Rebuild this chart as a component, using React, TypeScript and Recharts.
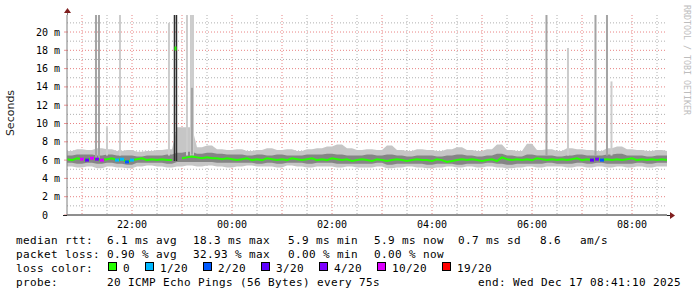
import React from "react";
import {
  ComposedChart, CartesianGrid, XAxis, YAxis, Area, Line, Bar, Scatter,
} from "recharts";

// time axis in hours since midnight of Dec 16 (24 = 00:00 Dec 17)
const T_START = 20.7;
const T_END = 32.7;
const T_STEP = 0.1;
const Y_TOP = 21.86; // ms at top edge of the plot

const hourTicks = [22, 24, 26, 28, 30, 32];
const hourLabels = ["22:00", "00:00", "02:00", "04:00", "06:00", "08:00"];
const msTicks = [0, 2, 4, 6, 8, 10, 12, 14, 16, 18, 20];
const msLabels = ["0\u00a0\u00a0", "2 m", "4 m", "6 m", "8 m", "10 m", "12 m", "14 m", "16 m", "18 m", "20 m"];

const majorY = [2, 4, 6, 8, 10, 12, 14, 16, 18, 20];
const minorY = [1, 3, 5, 7, 9, 11, 13, 15, 17, 19, 21];
const majorX = [21, 22, 23, 24, 25, 26, 27, 28, 29, 30, 31, 32];
const minorX = [21.5, 22.5, 23.5, 24.5, 25.5, 26.5, 27.5, 28.5, 29.5, 30.5, 31.5, 32.5];

// median rtt (ms), one value every 6 minutes
const median = [
  6.1, 6.0, 6.2, 6.1, 6.0, 6.2, 6.1, 6.0, 6.1, 6.2,
  6.0, 6.1, 5.8, 6.0, 6.1, 6.2, 6.0, 6.1, 6.0, 6.1,
  6.0, 6.0, null, 6.2, 6.3, 6.4, 6.3, 6.2, 6.3, 6.2,
  6.2, 6.1, 6.2, 6.1, 6.0, 6.1, 6.2, 6.0, 6.1, 6.0,
  6.2, 6.1, 6.0, 6.1, 6.0, 6.2, 6.1, 6.0, 6.1, 6.2,
  6.0, 6.1, 6.0, 6.2, 6.1, 6.0, 6.1, 5.9, 6.0, 6.1,
  6.0, 5.9, 6.1, 6.0, 5.9, 6.0, 6.1, 6.0, 5.9, 6.0,
  6.1, 6.0, 6.0, 5.9, 6.1, 6.0, 5.8, 5.9, 6.0, 6.1,
  6.0, 6.1, 6.0, 5.9, 6.0, 6.1, 5.9, 6.3, 6.1, 6.0,
  6.1, 6.0, 6.1, 6.0, 6.2, 6.1, 6.0, 6.1, 6.0, 6.1,
  6.0, 6.1, 6.2, 6.0, 6.1, 6.0, 6.1, 6.0, 6.1, 6.0,
  6.1, 6.0, 6.1, 6.2, 6.0, 6.1, 6.0, 6.1, 6.0, 6.1,
  6.0,
];

// smoke bands (ms), one value every 12 minutes
const outerHi = [
  7.0, 7.2, 7.1, 7.3, 7.2, 7.0, 7.1, 6.9, 7.0, 7.1,
  7.2, 9.6, 9.6, 7.4, 7.6, 7.2, 7.1, 7.2, 7.0, 7.1,
  7.3, 7.1, 7.2, 7.0, 7.2, 7.3, 7.5, 7.7, 7.3, 7.1,
  7.2, 7.1, 7.6, 7.1, 7.0, 7.2, 7.1, 7.0, 7.2, 7.4,
  7.1, 7.0, 7.2, 7.7, 7.1, 7.0, 7.8, 7.1, 7.2, 7.0,
  7.3, 7.2, 7.1, 7.0, 7.3, 7.5, 7.2, 7.1, 7.0, 7.1,
  7.0,
];
const outerLo = [
  5.3, 5.2, 5.3, 5.1, 5.3, 5.2, 5.1, 5.3, 5.4, 5.3,
  5.2, 5.3, 5.4, 5.3, 5.4, 5.3, 5.2, 5.3, 5.4, 5.3,
  5.3, 5.2, 5.4, 5.3, 5.2, 5.3, 5.3, 5.2, 5.3, 5.2,
  5.2, 5.3, 5.1, 5.2, 5.3, 5.2, 5.1, 5.2, 5.3, 5.2,
  5.3, 5.2, 5.3, 5.2, 5.1, 5.2, 5.3, 5.2, 5.3, 5.3,
  5.2, 5.3, 5.2, 5.3, 5.2, 5.3, 5.2, 5.3, 5.2, 5.3,
  5.3,
];
const innerHi = [
  6.5, 6.6, 6.6, 6.5, 6.6, 6.5, 6.5, 6.4, 6.5, 6.5,
  6.6, 6.8, 6.9, 6.7, 6.8, 6.7, 6.6, 6.6, 6.5, 6.6,
  6.5, 6.6, 6.5, 6.5, 6.6, 6.6, 6.7, 6.6, 6.5, 6.5,
  6.6, 6.5, 6.6, 6.5, 6.4, 6.5, 6.5, 6.4, 6.5, 6.6,
  6.5, 6.4, 6.5, 6.7, 6.5, 6.4, 6.6, 6.5, 6.5, 6.4,
  6.5, 6.6, 6.5, 6.5, 6.6, 6.7, 6.5, 6.5, 6.4, 6.5,
  6.5,
];
const innerLo = [
  5.7, 5.6, 5.7, 5.6, 5.7, 5.6, 5.5, 5.7, 5.7, 5.7,
  5.6, 5.8, 5.8, 5.8, 5.8, 5.7, 5.7, 5.7, 5.7, 5.6,
  5.7, 5.6, 5.7, 5.7, 5.6, 5.7, 5.7, 5.6, 5.6, 5.6,
  5.6, 5.7, 5.5, 5.6, 5.6, 5.6, 5.5, 5.6, 5.6, 5.5,
  5.6, 5.6, 5.7, 5.6, 5.5, 5.6, 5.6, 5.6, 5.7, 5.6,
  5.6, 5.7, 5.6, 5.7, 5.6, 5.6, 5.6, 5.7, 5.6, 5.7,
  5.7,
];

// lossy samples: index into median[], and lost pings out of 20
const lossRows = [3, 4, 5, 6, 7, 10, 11, 12, 13, 105, 106, 107];
const lossCounts = [10, 3, 10, 4, 10, 1, 1, 2, 1, 3, 4, 2];

// single-sample outliers in the smoke
const spikeTimes = [21.28, 21.34, 21.5, 21.76, 22.74, 22.85, 22.89, 23.1, 23.18, 23.22, 23.2, 30.29, 30.72, 31.27, 31.5, 31.59];
const spikeLows = [6.2, 6.2, 6.5, 6.5, 6.5, 5.9, 5.9, 6.5, 6.5, 6.5, 6.6, 6.5, 6.5, 6.5, 6.5, 6.5];
const spikeHighs = [22, 22, 9.6, 22, 21.0, 22, 22, 22, 22, 22, 13.9, 22, 18.25, 22, 22, 14.6];
const spikeShades = ["mid", "mid", "light", "light", "light", "dark", "dark", "light", "light", "light", "mid", "mid", "light", "mid", "mid", "light"];

const peakTimes = [22.87];
const peakMedians = [18.2];

const lossLevels = [0, 1, 2, 3, 4, 10, 19];
const lossLabels = ["0", "1/20", "2/20", "3/20", "4/20", "10/20", "19/20"];
const LOSS_COLORS: Record<number, string> = {
  0: "#26ff00", 1: "#00b8ff", 2: "#0059ff", 3: "#5e00ff", 4: "#7e00ff", 10: "#dd00ff", 19: "#ff0000",
};
const SHADES: Record<string, string> = { light: "#cccccc", mid: "#a4a4a4", dark: "#2e2e2e" };

const MONO = '"DejaVu Sans Mono", monospace';

const legendRtt: [number, string][] = [
  [16, "median rtt:"], [107, "6.1 ms avg"], [193, "18.3 ms max"], [288, "5.9 ms min"],
  [374, "5.9 ms now"], [458, "0.7 ms sd"], [540, "8.6"], [580, "am/s"],
];
const legendLoss: [number, string][] = [
  [16, "packet loss:"], [107, "0.90 % avg"], [193, "32.93 % max"], [288, "0.00 % min"], [374, "0.00 % now"],
];
const legendProbe: [number, string][] = [
  [16, "probe:"], [107, "20 ICMP Echo Pings (56 Bytes) every 75s"], [478, "end: Wed Dec 17 08:41:10 2025"],
];

function SpikeShape(props: any) {
  const { x, y, width, height, payload } = props;
  if (height == null || !isFinite(height) || !isFinite(y)) return null;
  const cx = x + width / 2;
  const w = payload.shade === "dark" ? 1.5 : 2;
  return <rect x={cx - w / 2} y={y} width={w} height={height} fill={SHADES[payload.shade]} />;
}

function LossDot(props: any) {
  const { cx, cy, payload } = props;
  if (cx == null || cy == null) return null;
  return <rect x={cx - 2} y={cy - 1.5} width={4} height={3} fill={LOSS_COLORS[payload.loss]} />;
}

function PeakDot(props: any) {
  const { cx, cy } = props;
  if (cx == null || cy == null) return null;
  return <rect x={cx - 1} y={cy - 2} width={2} height={4} fill={LOSS_COLORS[0]} />;
}

export default function App() {
  const rows = median.map((m, i) => ({
    t: Math.round((T_START + i * T_STEP) * 100) / 100,
    median: m,
    outer: [outerLo[i >> 1], outerHi[i >> 1]],
    inner: [innerLo[i >> 1], innerHi[i >> 1]],
  }));
  const lossData = lossRows.map((r, k) => ({ t: rows[r].t, median: rows[r].median, loss: lossCounts[k] }));
  const spikes = spikeTimes.map((t, k) => ({ t, range: [spikeLows[k], spikeHighs[k]], shade: spikeShades[k] }));
  const peaks = peakTimes.map((t, k) => ({ t, median: peakMedians[k] }));

  // loss colour legend boxes
  let lx = 108;
  const boxes = lossLevels.map((lvl, k) => {
    const item = { x: lx, lvl, label: lossLabels[k] };
    lx += 15 + lossLabels[k].length * 7 + 15;
    return item;
  });

  return (
    <div style={{ position: "relative", width: 697, height: 297, background: "#fff" }}>
      <style>{"body{margin:0}"}</style>
      <ComposedChart width={697} height={297} data={spikes} margin={{ top: 15, right: 30, bottom: 52, left: 7 }}>
        <CartesianGrid horizontalValues={minorY} verticalValues={minorX} stroke="rgba(143,143,143,0.7)" strokeDasharray="1 2" />
        <CartesianGrid horizontalValues={majorY} verticalValues={majorX} stroke="rgba(222,79,79,0.7)" strokeDasharray="1 2" />
        <XAxis
          type="number"
          dataKey="t"
          domain={[T_START, T_END]}
          allowDataOverflow
          ticks={hourTicks}
          interval={0}
          tickFormatter={(v: number) => hourLabels[hourTicks.indexOf(v)]}
          tick={{ fontFamily: MONO, fontSize: 10, fill: "#000" }}
          tickLine={false}
          tickSize={4}
          tickMargin={2}
          axisLine={{ stroke: "#1f1f1f" }}
          height={30}
        />
        <YAxis
          type="number"
          domain={[0, Y_TOP]}
          allowDataOverflow
          ticks={msTicks}
          interval={0}
          tickFormatter={(v: number) => msLabels[msTicks.indexOf(v)]}
          tick={{ fontFamily: MONO, fontSize: 10, fill: "#000" }}
          tickLine={{ stroke: "rgba(222,79,79,0.6)" }}
          tickSize={3}
          tickMargin={4}
          axisLine={{ stroke: "#7f7f7f" }}
          width={60}
        />
        <Area data={rows} dataKey="outer" type="linear" stroke="none" fill="#c6c6c6" fillOpacity={1} isAnimationActive={false} />
        <Area data={rows} dataKey="inner" type="linear" stroke="none" fill="#858585" fillOpacity={1} isAnimationActive={false} />
        <Bar dataKey="range" barSize={2} shape={SpikeShape} isAnimationActive={false} />
        <Line data={rows} dataKey="median" type="linear" stroke={LOSS_COLORS[0]} strokeWidth={2} dot={false} isAnimationActive={false} />
        <Scatter data={lossData} dataKey="median" shape={LossDot} isAnimationActive={false} />
        <Scatter data={peaks} dataKey="median" shape={PeakDot} isAnimationActive={false} />
      </ComposedChart>

      <svg width={697} height={297} style={{ position: "absolute", left: 0, top: 0, pointerEvents: "none" }}>
        {/* axis extensions and arrows */}
        <line x1={67.5} y1={12} x2={67.5} y2={15} stroke="#7f7f7f" />
        <polygon points="64,13 71,13 67.5,8" fill="rgb(128,31,31)" />
        <line x1={63} y1={215.5} x2={67} y2={215.5} stroke="#1f1f1f" />
        <line x1={667} y1={215.5} x2={670} y2={215.5} stroke="#1f1f1f" />
        <polygon points="670,212 670,219 675,215.5" fill="rgb(128,31,31)" />

        <text transform="translate(14,113) rotate(-90)" textAnchor="middle" fontFamily='"DejaVu Sans", sans-serif' fontSize={11} fill="#222">
          Seconds
        </text>
        <text transform="translate(684,5) rotate(90)" fontFamily={MONO} fontSize={8.3} fill="#bdbdbd">
          RRDTOOL / TOBI OETIKER
        </text>

        <g fontFamily={MONO} fontSize={11} letterSpacing={0.38} fill="#000">
          {legendRtt.map(([x, s]) => <text key={"a" + x} x={x} y={244}>{s}</text>)}
          {legendLoss.map(([x, s]) => <text key={"b" + x} x={x} y={258}>{s}</text>)}
          <text x={16} y={272}>loss color:</text>
          {boxes.map((b) => (
            <g key={b.lvl}>
              <rect x={b.x + 0.5} y={262.5} width={8} height={8} fill={LOSS_COLORS[b.lvl]} stroke="#000" />
              <text x={b.x + 15} y={272}>{b.label}</text>
            </g>
          ))}
          {legendProbe.map(([x, s]) => <text key={"c" + x} x={x} y={286}>{s}</text>)}
        </g>
      </svg>
    </div>
  );
}
